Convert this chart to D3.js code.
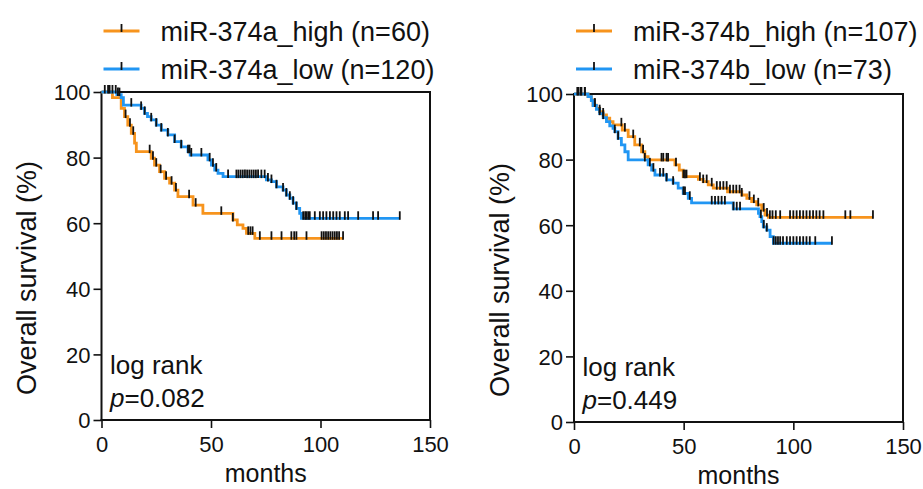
<!DOCTYPE html>
<html>
<head>
<meta charset="utf-8">
<script src="https://cdn.jsdelivr.net/npm/d3@7"></script>
<style>
  html, body { margin: 0; padding: 0; background: #fff; }
  svg { display: block; font-family: "Liberation Sans", Arial, sans-serif; }
</style>
</head>
<body>
<svg id="chart" width="923" height="489"></svg>
<script>
// ---------- DATA ----------
const xTicks = [0, 50, 100, 150];
const yTicks = [0, 20, 40, 60, 80, 100];
const xLabel = "months";
const yLabel = "Overall survival (%)";

// Panel A: miR-374a
const seriesNamesA = ["miR-374a_high (n=60)", "miR-374a_low (n=120)"];
const pValueA = "0.082";
// step points [month, survival %]
const stepsA_high = [[0,100],[5,98.3],[9,95.0],[10.5,92.5],[12,89.9],[13.6,87.4],[15.1,84.4],[15.9,81.8],[22.7,79.8],[24.2,77.7],[26.5,75.7],[28.8,73.7],[31.1,72.2],[33.4,70.1],[34.9,68.1],[41.8,65.5],[46.3,63.0],[60.0,61.0],[62,59.5],[64.6,58.4],[66.2,56.9],[70.0,55.4]];
const endA_high = 110.3;
const censorA_high = [1.5,3,11,13,14.5,22,23.5,25,27,29.5,32,34,40,43,54.7,60,67,68,69,72.3,77.6,82.2,86.7,88,89,93.6,100.5,101.5,102.5,103.5,104.5,105.5,106.5,107.5,108.5,110.3];
const stepsA_low = [[0,100],[7,99.2],[9,98.3],[10,96.0],[18.1,95.0],[19.7,93.5],[21,92.5],[22.7,91.5],[25,89.9],[27.3,88.4],[30.3,86.9],[33.4,84.9],[36.4,83.3],[39.5,81.8],[40.5,80.8],[48.6,79.3],[50.2,77.7],[51.7,76.2],[53.2,75.2],[55.5,74.2],[75.3,73.2],[77.6,72.7],[79.9,71.1],[82.9,70.1],[84.4,68.6],[86.0,67.6],[87.5,66.1],[89.0,64.5],[90.5,63.0],[91.3,61.5]];
const endA_low = 136.2;
const censorA_low = [3.7,5,6.5,7.5,8.2,13.6,18.1,19.7,22.7,25,27.3,30.3,33.4,36.4,39.5,40.2,41,45.6,49.4,50.9,52.4,57.8,61.6,62.5,63.5,64.5,65.5,66.5,67.5,68.5,69.5,70.5,71.5,73,74.5,76,77.6,79.9,82.9,84.4,86,87.5,89,92.1,93,93.6,94.4,95.1,97.4,99.7,101.2,102.7,104.3,105.8,107.3,108.8,111.1,112.6,117.2,124,126.3,136.2];

// Panel B: miR-374b
const seriesNamesB = ["miR-374b_high (n=107)", "miR-374b_low (n=73)"];
const pValueB = "0.449";
const stepsB_high = [[0,100],[6.4,99.2],[7.9,98.2],[8.7,96.6],[10.2,95.6],[11.7,94.6],[13.3,93.6],[14.8,92.6],[16.3,91.6],[17.8,90.6],[22,89.0],[24.7,87.0],[27.7,84.5],[30.8,82.4],[32.3,80.9],[33.8,79.9],[46.0,78.4],[48,76.8],[49.8,74.8],[56.7,74.0],[58.9,73.3],[61.2,72.3],[63.5,71.3],[70,70.2],[76.5,69.2],[78.8,68.2],[81.0,67.2],[83.3,66.2],[85.6,64.6],[87.1,63.1],[88.6,62.4]];
const endB_high = 136.3;
const censorB_high = [2,3.4,4.9,9.5,11.7,13.3,21.6,23.2,27,30,31.5,39.9,40.7,42.2,42.9,46.5,49.9,50.6,51.3,57.4,58.9,60.5,62.8,65.1,66.6,68.1,69.6,71.1,72.6,74,75.5,76.5,80,82,84,86.5,88,89.3,90.5,92,94,98.5,100,101.5,103,104.5,106,107.5,109,110.5,112,113.7,123.7,126,136.3];
const stepsB_low = [[0,100],[6.4,99.2],[7.9,98.0],[8.7,96.5],[10.2,95.3],[11.7,94.0],[13.3,92.8],[14.8,91.6],[16.3,90.3],[17.8,89.5],[18.6,88.5],[20.1,86.5],[21.6,84.5],[23.2,82.4],[24.7,79.9],[33.8,78.4],[35.4,76.8],[36.9,75.3],[42.2,73.8],[45.2,72.8],[47.5,71.3],[49.8,69.7],[52.1,68.2],[53.6,66.8],[72.6,65.0],[84.1,63.6],[84.8,62.6],[85.6,61.1],[86.3,59.5],[87.9,58.5],[89.4,56.5],[90.9,54.5]];
const endB_low = 117.6;
const censorB_low = [1.5,3,5,9.5,11.7,13.3,18.6,20.1,32.3,34.6,36.2,39.2,40.7,42.2,45.2,49.9,50.6,52.8,62.8,64.3,65.8,67.3,68.8,72.7,74.2,75.7,85.2,86.5,87.9,91,92,93,94,95.3,97,98.5,100,101.5,103,104.5,106,107.5,110,117.6];

const colors = ["#f7941d", "#2196f3"];

// ---------- DRAW ----------
const svg = d3.select("#chart");
const font = '"Liberation Sans", Arial, sans-serif';

function survivalAt(steps, t) {
  const i = d3.bisector(d => d[0]).right(steps, t) - 1;
  return steps[Math.max(0, i)][1];
}

function panel(cfg) {
  const g = svg.append("g");
  const x = d3.scaleLinear().domain([0, 150]).range(cfg.xr);
  const y = d3.scaleLinear().domain([0, 100]).range(cfg.yr);

  // frame (top + right)
  g.append("path")
    .attr("d", `M${x(0)},${y(100)}H${x(150)}V${y(0)}`)
    .attr("fill", "none").attr("stroke", "#111").attr("stroke-width", 2);

  const xAxis = g.append("g").attr("transform", `translate(0,${y(0)})`)
    .call(d3.axisBottom(x).tickValues(xTicks).tickSize(8).tickSizeOuter(0).tickPadding(3));
  const yAxis = g.append("g").attr("transform", `translate(${x(0)},0)`)
    .call(d3.axisLeft(y).tickValues(yTicks).tickSize(8).tickSizeOuter(0).tickPadding(3));
  [xAxis, yAxis].forEach(a => {
    a.select(".domain").attr("stroke", "#111").attr("stroke-width", 2);
    a.selectAll(".tick line").attr("stroke", "#111").attr("stroke-width", 1.6);
    a.selectAll(".tick text").attr("fill", "#111").style("font-size", "22px").style("font-family", font);
  });
  xAxis.selectAll(".tick text").attr("dy", "0.95em");
  yAxis.selectAll(".tick text").attr("dy", "0.36em");
  xAxis.select(".domain").attr("d", `M${x(0)-1},0H${x(150)+1}`);
  yAxis.select(".domain").attr("d", `M0,${y(0)+1}V${y(100)-1}`);

  const line = d3.line().x(d => x(d[0])).y(d => y(d[1])).curve(d3.curveStepAfter);

  cfg.series.forEach((s, i) => {
    const pts = s.steps.concat([[s.end, s.steps[s.steps.length - 1][1]]]);
    g.append("path").datum(pts).attr("d", line)
      .attr("fill", "none").attr("stroke", colors[i]).attr("stroke-width", 2.8);
  });
  cfg.series.forEach((s, i) => {
    g.append("g").selectAll("line").data(s.censor).join("line")
      .attr("x1", d => x(d)).attr("x2", d => x(d))
      .attr("y1", d => y(survivalAt(s.steps, d)) - 7)
      .attr("y2", d => y(survivalAt(s.steps, d)) + 1.5)
      .attr("stroke", "#111").attr("stroke-width", 1.8);
  });

  // legend
  cfg.names.forEach((n, i) => {
    const ly = cfg.legY[i];
    g.append("line").attr("x1", x(0) + 2).attr("x2", x(0) + 38).attr("y1", ly).attr("y2", ly)
      .attr("stroke", colors[i]).attr("stroke-width", 2.8);
    g.append("line").attr("x1", x(0) + 20).attr("x2", x(0) + 20).attr("y1", ly - 7).attr("y2", ly + 1)
      .attr("stroke", "#111").attr("stroke-width", 1.8);
    g.append("text").attr("x", x(0) + 59).attr("y", ly + 9.5).text(n)
      .style("font-size", "27px").attr("fill", "#111");
  });

  // axis labels
  g.append("text").attr("x", (x(0) + x(150)) / 2).attr("y", y(0) + 62)
    .attr("text-anchor", "middle").style("font-size", "25px").attr("fill", "#111").text(xLabel);
  g.append("text")
    .attr("transform", `translate(${x(0) - 65.5},${(y(0) + y(100)) / 2 + 22}) rotate(-90)`)
    .attr("text-anchor", "middle").style("font-size", "27px").attr("fill", "#111").text(yLabel);

  // log-rank annotation
  g.append("text").attr("x", x(0) + 8.5).attr("y", y(0) - 46).style("font-size", "26px").attr("fill", "#111").text("log rank");
  const pt = g.append("text").attr("x", x(0) + 8.5).attr("y", y(0) - 13).style("font-size", "26px").attr("fill", "#111");
  pt.append("tspan").style("font-style", "italic").text("p");
  pt.append("tspan").text("=" + cfg.p);
}

panel({
  xr: [101.5, 430], yr: [420, 92], legY: [31, 69], names: seriesNamesA, p: pValueA,
  series: [
    { steps: stepsA_high, end: endA_high, censor: censorA_high },
    { steps: stepsA_low, end: endA_low, censor: censorA_low }
  ]
});
panel({
  xr: [574, 903], yr: [422, 94], legY: [31, 69], names: seriesNamesB, p: pValueB,
  series: [
    { steps: stepsB_high, end: endB_high, censor: censorB_high },
    { steps: stepsB_low, end: endB_low, censor: censorB_low }
  ]
});
</script>
</body>
</html>
